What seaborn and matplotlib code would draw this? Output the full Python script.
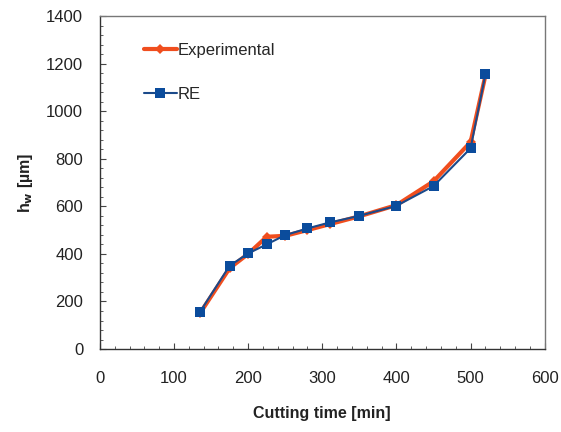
import matplotlib
matplotlib.use("Agg")
import matplotlib.pyplot as plt
import pandas as pd
import seaborn as sns
from matplotlib.ticker import MultipleLocator

cutting_time = [135, 175, 200, 225, 250, 280, 310, 350, 400, 450, 500, 520]
hw_experimental = [150, 340, 400, 472, 476, 500, 525, 558, 605, 705, 870, 1150]
hw_re = [156, 350, 402, 440, 479, 507, 532, 560, 602, 685, 844, 1155]

exp_df = pd.DataFrame({"time": cutting_time, "hw": hw_experimental})
re_df = pd.DataFrame({"time": cutting_time, "hw": hw_re})

sns.set_style("white")
plt.rcParams["font.family"] = ["Liberation Sans", "DejaVu Sans"]

fig = plt.figure(figsize=(5.61, 4.32), dpi=100)
ax = fig.add_axes([0.178, 0.192, 0.793, 0.771])

sns.lineplot(data=exp_df, x="time", y="hw", ax=ax, color="#F04E1E", linewidth=3,
             marker="D", markersize=5, markeredgewidth=0, label="Experimental")
sns.lineplot(data=re_df, x="time", y="hw", ax=ax, color="#1B4A8A", linewidth=1.5,
             marker="s", markersize=7, markerfacecolor="#0B4C9C", markeredgewidth=0,
             label="RE")

ax.set_xlim(0, 600)
ax.set_ylim(0, 1400)
ax.xaxis.set_major_locator(MultipleLocator(100))
ax.xaxis.set_minor_locator(MultipleLocator(20))
ax.yaxis.set_major_locator(MultipleLocator(200))
ax.yaxis.set_minor_locator(MultipleLocator(40))
ax.tick_params(which="both", direction="in", bottom=True, left=True,
               colors="#444444", labelcolor="#222222", labelsize=12)
ax.tick_params(which="major", length=4, width=0.8)
ax.tick_params(which="minor", length=2.5, width=0.6)
ax.tick_params(axis="x", pad=16)
ax.tick_params(axis="y", pad=12)

for side in ["left", "bottom"]:
    ax.spines[side].set_color("#333333")
    ax.spines[side].set_linewidth(1)
for side in ["top", "right"]:
    ax.spines[side].set_color("#777777")
    ax.spines[side].set_linewidth(1)

ax.set_xlabel("Cutting time [min]", fontsize=11.5, fontweight="bold", labelpad=14,
              color="#222222")
ax.set_ylabel(r"h$_\mathbf{w}$ [µm]", fontsize=11.5, fontweight="bold", labelpad=8,
              color="#222222")

ax.legend(loc="upper left", bbox_to_anchor=(0.065, 0.965), frameon=False, fontsize=12,
          handlelength=2.0, handletextpad=0.05, labelspacing=1.75)

fig.savefig("out.png", dpi=100)
